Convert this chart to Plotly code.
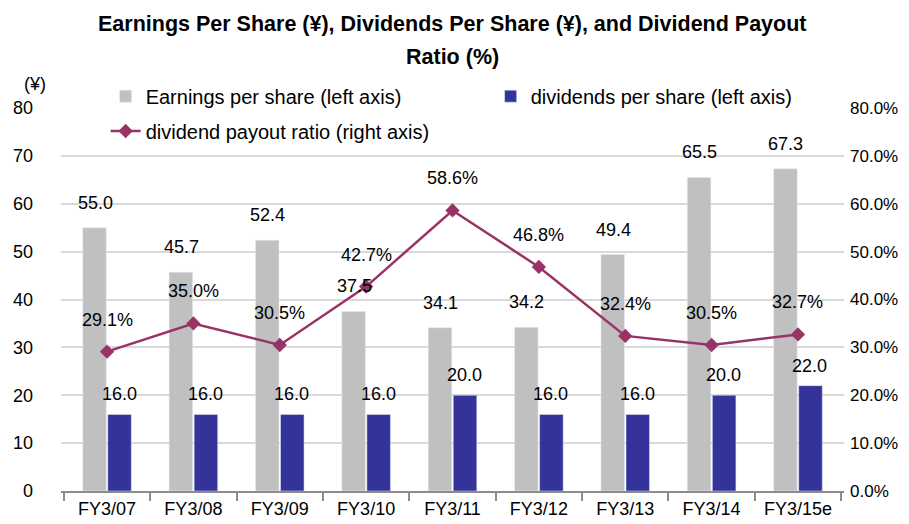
import plotly.graph_objects as go

categories = ["FY3/07", "FY3/08", "FY3/09", "FY3/10", "FY3/11", "FY3/12", "FY3/13", "FY3/14", "FY3/15e"]
eps = [55.0, 45.7, 52.4, 37.5, 34.1, 34.2, 49.4, 65.5, 67.3]
dps = [16.0, 16.0, 16.0, 16.0, 20.0, 16.0, 16.0, 20.0, 22.0]
payout = [29.1, 35.0, 30.5, 42.7, 58.6, 46.8, 32.4, 30.5, 32.7]
title_lines = ["Earnings Per Share (¥), Dividends Per Share (¥), and Dividend Payout", "Ratio (%)"]

FONT = "Liberation Sans, Arial, sans-serif"
GREY = "#C0C0C0"
NAVY = "#333399"
MAROON = "#993366"

fig = go.Figure()
fig.add_trace(go.Bar(x=categories, y=eps, name="Earnings per share (left axis)",
                     marker=dict(color=GREY), legend="legend"))
fig.add_trace(go.Bar(x=categories, y=dps, name="dividends per share (left axis)",
                     marker=dict(color=NAVY), legend="legend"))
fig.add_trace(go.Scatter(x=categories, y=payout, name="dividend payout ratio (right axis)",
                         yaxis="y2", mode="lines+markers",
                         line=dict(color=MAROON, width=2.5),
                         marker=dict(symbol="diamond", size=11, color=MAROON),
                         legend="legend2"))

annotations = []
for c, v in zip(categories, eps):
    annotations.append(dict(x=c, y=v, xref="x", yref="y", text=f"{v:.1f}", showarrow=False,
                            xshift=-12, yshift=25, font=dict(size=18, color="#000")))
for c, v in zip(categories, dps):
    annotations.append(dict(x=c, y=v, xref="x", yref="y", text=f"{v:.1f}", showarrow=False,
                            xshift=12, yshift=20, font=dict(size=18, color="#000")))
for c, v in zip(categories, payout):
    annotations.append(dict(x=c, y=v, xref="x", yref="y2", text=f"{v:.1f}%", showarrow=False,
                            xshift=0, yshift=32, font=dict(size=18, color="#000")))
annotations.append(dict(x=-0.05, y=1.094, xref="paper", yref="paper", text="(¥)", showarrow=False,
                        font=dict(size=18, color="#000")))
for txt, yy in zip(title_lines, [1.219, 1.133]):
    annotations.append(dict(x=0.5, y=yy, xref="paper", yref="paper", text=f"<b>{txt}</b>",
                            showarrow=False, yanchor="middle",
                            font=dict(size=21.5, color="#000", family=FONT)))

fig.update_layout(
    width=901, height=516,
    margin=dict(l=53, r=65, t=100, b=33, autoexpand=False),
    paper_bgcolor="white", plot_bgcolor="white",
    font=dict(family=FONT, size=18, color="#000"),
    barmode="group", bargap=0.42, bargroupgap=0.06,
    showlegend=True,
    legend=dict(orientation="h", x=0.057, xanchor="left", y=1.031, yanchor="middle",
                entrywidth=340, entrywidthmode="pixels", bgcolor="rgba(0,0,0,0)",
                font=dict(size=20), traceorder="normal"),
    legend2=dict(orientation="h", x=0.057, xanchor="left", y=0.94, yanchor="middle",
                 bgcolor="rgba(0,0,0,0)", font=dict(size=20)),
    xaxis=dict(type="category", showline=True, linecolor="#8C8C8C", linewidth=2,
               ticks="outside", tickson="boundaries", ticklen=8, tickcolor="#8C8C8C", tickwidth=2,
               tickfont=dict(size=18), showgrid=False, automargin=False),
    yaxis=dict(range=[0, 80], dtick=10, showgrid=True, gridcolor="#D9D9D9", gridwidth=1.5,
               zeroline=False, ticks="", tickfont=dict(size=18), automargin=False,
               ticklabelstandoff=27),
    yaxis2=dict(range=[0, 80], dtick=10, overlaying="y", side="right", showgrid=False,
                zeroline=False, ticksuffix="%", tickformat=".1f", tickfont=dict(size=17),
                automargin=False, ticklabelstandoff=5),
    annotations=annotations,
)

fig.write_html("out.html")
